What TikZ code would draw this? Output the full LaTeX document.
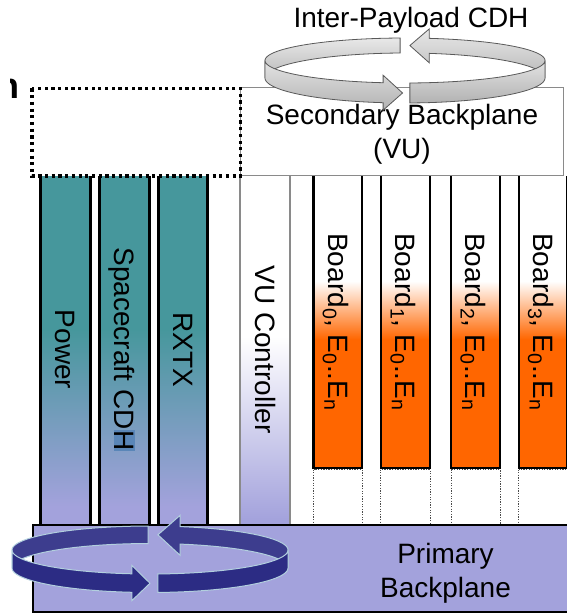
\documentclass[tikz,border=0pt]{standalone}
\usepackage{fontspec}
\setmainfont{Liberation Sans}

\definecolor{tealc}{HTML}{46979C}
\definecolor{lav}{HTML}{A3A2DC}
\definecolor{orng}{HTML}{FF6600}
\definecolor{ringblue}{HTML}{2C2C84}
\definecolor{ringedge}{HTML}{B2CFDE}
\definecolor{hlblue}{HTML}{5A86B8}
\definecolor{boxgray}{HTML}{8A8A8A}

% vertical fades (0bp = bottom, 25bp..75bp spans the filled path)
\pgfdeclareverticalshading{tealfade}{100bp}{color(0bp)=(lav); color(27.5bp)=(lav); color(53bp)=(tealc); color(100bp)=(tealc)}
\pgfdeclareverticalshading{vufade}{100bp}{color(0bp)=(lav); color(25.5bp)=(lav); color(52bp)=(white); color(100bp)=(white)}
\pgfdeclareverticalshading{boardfade}{100bp}{color(0bp)=(orng); color(47bp)=(orng); color(57bp)=(white); color(100bp)=(white)}

% ring ribbon: centre x, x-radius, upper edge centre y / radius, lower edge centre y / radius
\newcommand\ringset[6]{\def\rcx{#1}\def\ra{#2}\def\rya{#3}\def\rba{#4}\def\ryb{#5}\def\rbb{#6}}
% plain band between two angles
\newcommand\ringband[3]{%
  \path[#3] plot[domain=#1:#2,samples=40] ({\rcx+\ra*cos(\x)},{\rya+\rba*sin(\x)})
    -- plot[domain=#2:#1,samples=40] ({\rcx+\ra*cos(\x)},{\ryb+\rbb*sin(\x)}) -- cycle;}
% band from #1 to #2 ending in an arrow head whose tip sits at angle #3, half height #4
\newcommand\ringhead[5]{%
  \pgfmathsetmacro\hbx{\rcx+\ra*cos(#2)}%
  \pgfmathsetmacro\hby{(\rya+\rba*sin(#2)+\ryb+\rbb*sin(#2))/2}%
  \pgfmathsetmacro\htx{\rcx+\ra*cos(#3)}%
  \pgfmathsetmacro\hty{(\rya+\rba*sin(#3)+\ryb+\rbb*sin(#3))/2}%
  \path[#5] plot[domain=#1:#2,samples=40] ({\rcx+\ra*cos(\x)},{\rya+\rba*sin(\x)})
    -- (\hbx,{\hby-#4}) -- (\htx,\hty) -- (\hbx,{\hby+#4})
    -- plot[domain=#2:#1,samples=40] ({\rcx+\ra*cos(\x)},{\ryb+\rbb*sin(\x)}) -- cycle;}

\newcommand\hlbox[1]{{\setlength\fboxsep{0.8pt}\colorbox{hlblue}{#1}}}

\tikzset{
  lbl/.style={font=\fontsize{28}{34}\selectfont, inner sep=0pt, text height=25.3pt, text depth=5.9pt},
  vlbl/.style={lbl, rotate=-90},
  lbltwo/.style={font=\fontsize{28}{34}\selectfont, inner sep=0pt, align=center},
  dotbox/.style={draw=black, line width=3.4pt, dash pattern=on 3.2pt off 3.5pt},
  secbox/.style={fill=white, draw=boxgray, line width=1.5pt},
  colside/.style={draw=black, line width=3pt},
  vuside/.style={draw=boxgray, line width=1.5pt},
  boardedge/.style={draw=black, line width=2.3pt},
  slotdots/.style={draw=black!70, line width=1pt, dash pattern=on 1.3pt off 1.3pt},
  pribox/.style={fill=lav, draw=black, line width=2.6pt},
  grayback/.style={top color=gray!18, bottom color=gray!55, draw=black!65, line width=0.8pt},
  grayfront/.style={top color=gray!22, bottom color=gray!60, draw=black!65, line width=0.8pt},
  blueback/.style={fill=ringblue!92!white, draw=ringedge, line width=1pt},
  bluefront/.style={fill=ringblue, draw=ringedge, line width=1pt},
}

\begin{document}
\begin{tikzpicture}[x=1pt, y=-1pt]
\useasboundingbox (0,0) rectangle (566,615);

% secondary backplane
\draw[secbox] (240.5,87.5) rectangle (563.5,175.5);

% payload columns
\shade[shading=tealfade] (40,176) rectangle (90,524);
\shade[shading=tealfade] (99.5,176) rectangle (149,524);
\shade[shading=tealfade] (158.3,176) rectangle (207,524);
\draw[colside] (40,176) -- (40,524) (90,176) -- (90,524);
\draw[colside] (99.5,176) -- (99.5,524) (149,176) -- (149,524);
\draw[colside] (158.3,176) -- (158.3,524) (207,176) -- (207,524);

% VU controller
\shade[shading=vufade] (240,176) rectangle (290,524);
\draw[vuside] (240,176) -- (240,524) (290,176) -- (290,524);

% boards with empty slots below
\foreach \l/\r/\i in {313.5/362/0, 380.7/430/1, 451/500/2, 518.8/567.3/3}{
  \shade[shading=boardfade] (\l,176) rectangle (\r,468);
  \draw[boardedge] (\l,176) -- (\l,468) -- (\r,468) -- (\r,176);
  \draw[slotdots] (\l,469.5) rectangle (\r,524);
  \node[vlbl] (board\i) at ({(\l+\r)/2},322) {Board\textsubscript{\i}, E\textsubscript{0}..E\textsubscript{n}};
}

% empty dotted bay above the bus columns
\draw[dotbox] (32,88.5) rectangle (240.5,176);

% primary backplane
\draw[pribox] (33,525) rectangle (590,612);

% labels
\node[vlbl] (power) at (65,349.5) {Power};
\node[vlbl] (sccdh) at (124.3,349.5) {Spacecraft CD\hlbox{H}};
\node[vlbl] (rxtx) at (182.7,349.5) {RXTX};
\node[vlbl] (vuctl) at (265,349.5) {VU Controller};
\node[lbltwo] (secondary) at (402,134.7) {Secondary Backplane\\(VU)};
\node[lbltwo] (primary) at (445.5,573) {Primary\\Backplane};

% gray exchange ring over the secondary backplane
\ringset{405}{140}{60.5}{22.5}{78}{25}
\ringhead{0}{-80}{-88}{17}{grayback}
\ringband{268}{180}{grayback}
\ringband{0}{88}{grayfront}
\ringhead{180}{99}{91}{17.5}{grayfront}
\node[lbl] (interpayload) at (411,18.3) {Inter-Payload CDH};

% blue exchange ring over the primary backplane
\ringset{150}{138}{550}{24}{568}{24.5}
\ringhead{0}{-77.4}{-86.7}{20}{blueback}
\ringband{269.2}{180}{blueback}
\ringband{0}{86.7}{bluefront}
\ringhead{180}{97.5}{90}{17.5}{bluefront}

% cut-off heading letter at the left edge
\begin{scope}
  \clip (10,60) rectangle (30,110);
  \node[anchor=base west, inner sep=0pt, font=\bfseries\fontsize{36}{36}\selectfont] (cutletter) at (-2.7,99) {n};
\end{scope}
\end{tikzpicture}
\end{document}
